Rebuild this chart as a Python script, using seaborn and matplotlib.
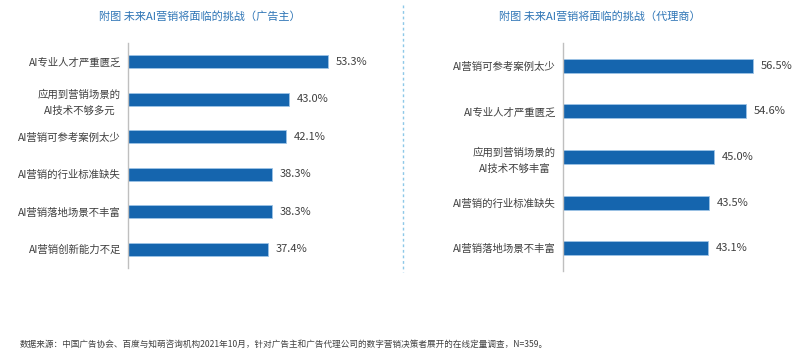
import matplotlib
matplotlib.use("Agg")
import matplotlib.pyplot as plt
import seaborn as sns
from matplotlib.lines import Line2D

# Data
adv_labels = ["AI专业人才严重匮乏", "应用到营销场景的\nAI技术不够多元", "AI营销可参考案例太少",
              "AI营销的行业标准缺失", "AI营销落地场景不丰富", "AI营销创新能力不足"]
adv_values = [53.3, 43.0, 42.1, 38.3, 38.3, 37.4]

agency_labels = ["AI营销可参考案例太少", "AI专业人才严重匮乏", "应用到营销场景的\nAI技术不够丰富",
                 "AI营销的行业标准缺失", "AI营销落地场景不丰富"]
agency_values = [56.5, 54.6, 45.0, 43.5, 43.1]

titles = ["附图 未来AI营销将面临的挑战（广告主）", "附图 未来AI营销将面临的挑战（代理商）"]
source = "数据来源：中国广告协会、百度与知萌咨询机构2021年10月，针对广告主和广告代理公司的数字营销决策者展开的在线定量调查，N=359。"

sns.set_theme(style="white")
plt.rcParams['font.family'] = ['Noto Sans CJK SC', 'DejaVu Sans']

bar_color = "#1565AE"
text_color = "#404040"
title_color = "#2E75B6"

fig = plt.figure(figsize=(8, 3.62), dpi=100)

# axes positions in figure fraction (left, bottom, width, height)
ax1 = fig.add_axes([0.16, 0.2597, 0.28125, 0.6215])
ax2 = fig.add_axes([0.70375, 0.2514, 0.2730, 0.6298])


def draw_panel(ax, labels, values, xmax, width):
    sns.barplot(x=values, y=labels, orient="h", color=bar_color, width=width,
                edgecolor="#9DC3E6", linewidth=0.6, saturation=1, ax=ax)
    ax.set_xlim(0, xmax)
    ax.set_xticks([])
    ax.set_xlabel("")
    ax.set_ylabel("")
    for s in ["top", "right", "bottom"]:
        ax.spines[s].set_visible(False)
    ax.spines["left"].set_color("#BFBFBF")
    ax.spines["left"].set_linewidth(1)
    ax.tick_params(axis="y", length=0, pad=5, labelsize=7.5, labelcolor=text_color)
    for lab in ax.get_yticklabels():
        lab.set_linespacing(1.6)
        lab.set_multialignment("center")
    for i, v in enumerate(values):
        ax.text(v + xmax * 0.035, i, f"{v:.1f}%", va="center", ha="left",
                fontsize=8, color=text_color)


draw_panel(ax1, adv_labels, adv_values, 60, 0.35)
draw_panel(ax2, agency_labels, agency_values, 65, 0.31)

fig.text(0.25, 0.955, titles[0], ha="center", va="center", fontsize=8, color=title_color)
fig.text(0.75, 0.955, titles[1], ha="center", va="center", fontsize=8, color=title_color)

# dashed separator
fig.add_artist(Line2D([403 / 800, 403 / 800], [1 - 5 / 362, 1 - 272 / 362],
                      transform=fig.transFigure, color="#8DC8E8", lw=1,
                      linestyle=(0, (2, 2))))

fig.text(20 / 800, 1 - 344 / 362, source, ha="left", va="center", fontsize=6.2, color=text_color)

fig.savefig("out.png", dpi=100)
